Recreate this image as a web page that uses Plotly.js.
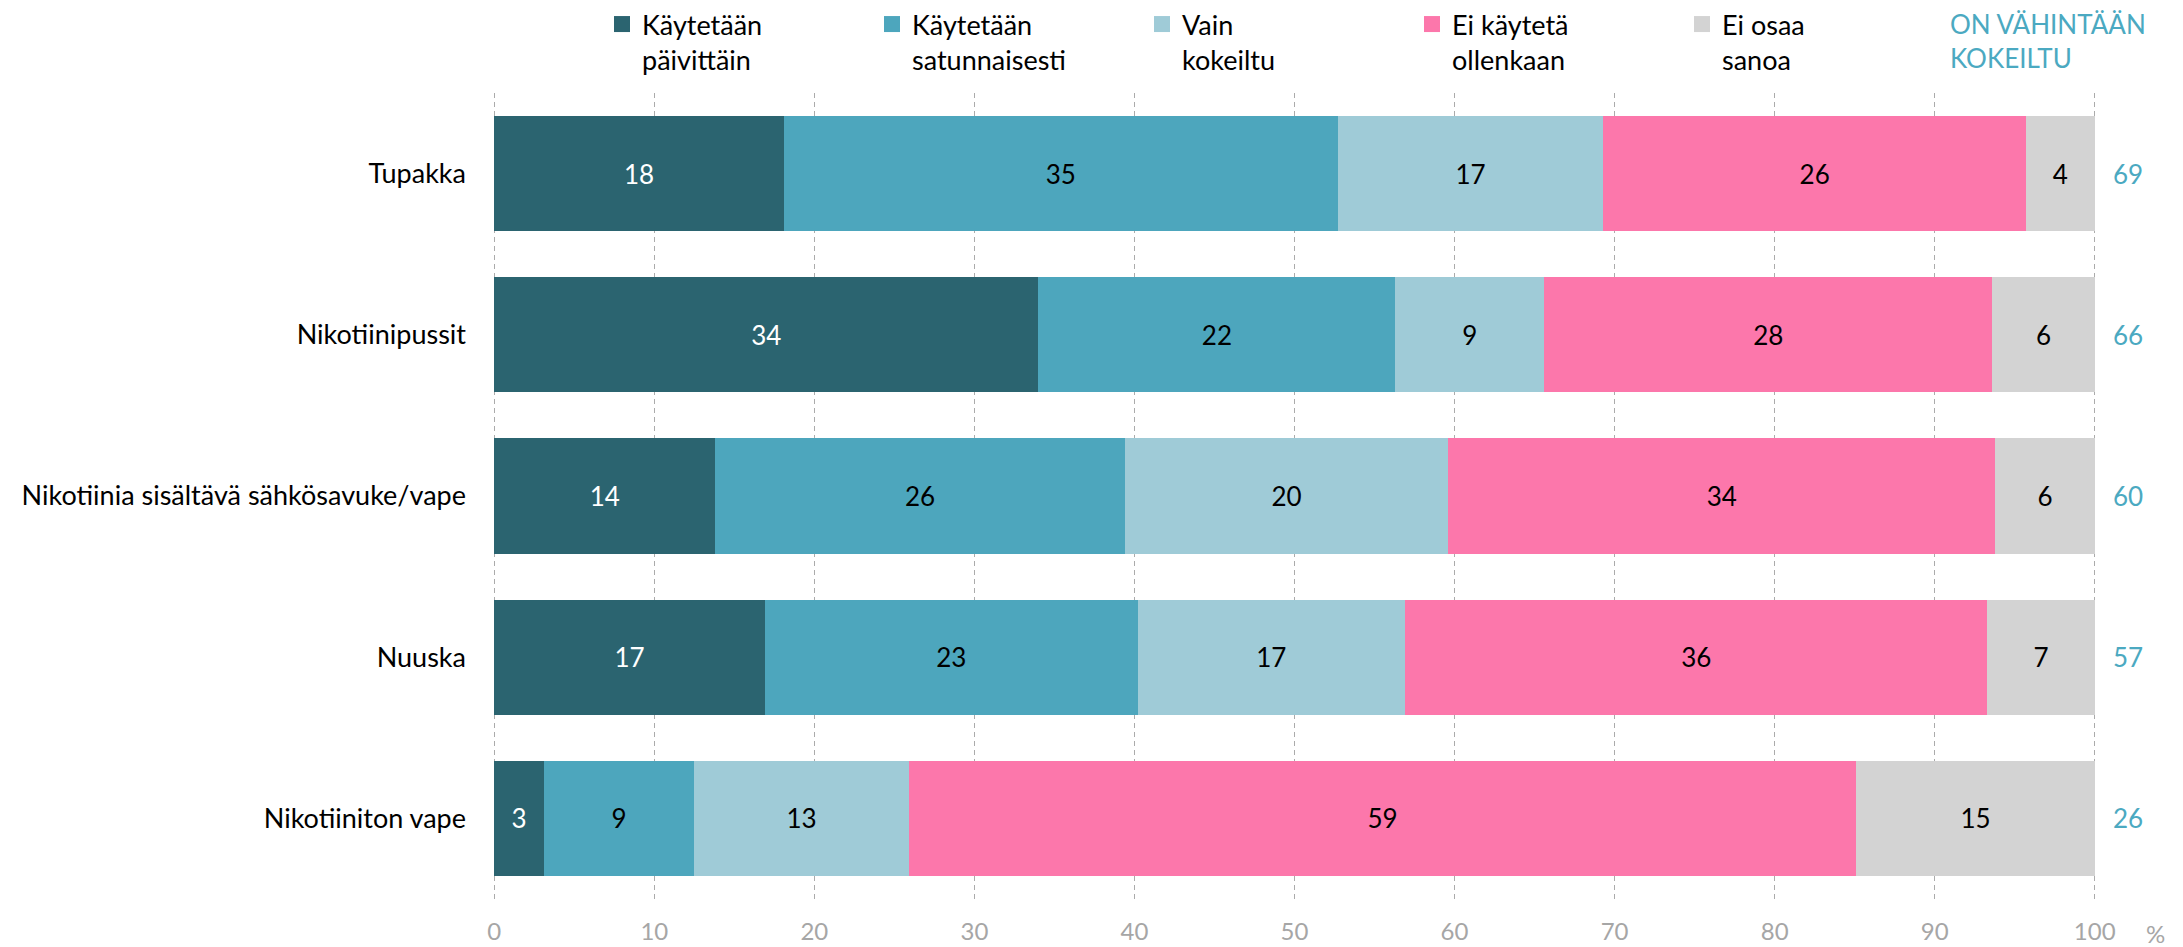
<!DOCTYPE html>
<html>
<head>
<meta charset="utf-8">
<script src="https://cdn.plot.ly/plotly-3.0.1.min.js"></script>
<style>html,body{margin:0;padding:0;background:#fff;}#chart{width:2183px;height:947px;}</style>
</head>
<body>
<div id="chart"></div>
<script>
// Categories (top to bottom)
const categories = ["Tupakka", "Nikotiinipussit", "Nikotiinia sisältävä sähkösavuke/vape", "Nuuska", "Nikotiiniton vape"];
// Series names (legend)
const seriesNames = ["Käytetään<br>päivittäin", "Käytetään<br>satunnaisesti", "Vain<br>kokeiltu", "Ei käytetä<br>ollenkaan", "Ei osaa<br>sanoa"];
// Series values (% per category)
const daily      = [18.1, 34.0, 13.8, 16.9, 3.1];
const occasional = [34.6, 22.3, 25.6, 23.3, 9.4];
const triedOnly  = [16.6,  9.3, 20.2, 16.7, 13.4];
const notUsed    = [26.4, 28.0, 34.2, 36.4, 59.2];
const dontKnow   = [ 4.3,  6.4,  6.2,  6.7, 14.9];
// "On vähintään kokeiltu" totals shown on the right
const atLeastTried = [69, 66, 60, 57, 26];
// x-axis ticks
const xTicks = [0, 10, 20, 30, 40, 50, 60, 70, 80, 90, 100];

const seriesValues = [daily, occasional, triedOnly, notUsed, dontKnow];
const colors = ["#2B6470", "#4DA6BD", "#9FCBD7", "#FC77AB", "#D3D3D3"];
const textColors = ["#FFFFFF", "#000000", "#000000", "#000000", "#000000"];
const FONT = "Lato, 'Open Sans', sans-serif";

const barTraces = seriesValues.map((vals, i) => ({
  type: "bar",
  orientation: "h",
  name: seriesNames[i],
  legendgroup: "g" + i,
  showlegend: false,
  y: categories,
  x: vals,
  marker: {color: colors[i], line: {width: 0}},
  text: vals.map(v => String(Math.round(v))),
  textposition: "inside",
  insidetextanchor: "middle",
  textangle: 0,
  textfont: {family: FONT, size: 26, color: textColors[i]},
  hoverinfo: "x+y+name",
  cliponaxis: false
}));
// legend entries (square swatches)
const legendTraces = seriesNames.map((n, i) => ({
  type: "scatter", mode: "markers", name: n, legendgroup: "g" + i,
  x: [null], y: [null], showlegend: true, hoverinfo: "skip",
  marker: {symbol: "square", size: 16, color: colors[i], line: {width: 0}}
}));

const annotations = categories.map((c, i) => ({
  xref: "paper", yref: "y", x: 1, y: c,
  xanchor: "left", yanchor: "middle", xshift: 15,
  text: String(atLeastTried[i]), showarrow: false,
  font: {family: FONT, size: 26, color: "#4BA9C1"}
}));
annotations.push({
  xref: "paper", yref: "paper", x: 0.9076, y: 1.108,
  xanchor: "left", yanchor: "top", align: "left",
  text: "ON VÄHINTÄÄN<br>KOKEILTU", showarrow: false,
  font: {family: FONT, size: 26, color: "#4BA9C1"}
});
annotations.push({
  xref: "paper", yref: "paper", x: 1, y: 0,
  xanchor: "left", yanchor: "middle", xshift: 48, yshift: -34,
  text: "%", showarrow: false,
  font: {family: FONT, size: 24, color: "#A6A6A6"}
});

const layout = {
  width: 2183, height: 947,
  margin: {l: 493, r: 87, t: 93, b: 48, autoexpand: false},
  paper_bgcolor: "#fff", plot_bgcolor: "#fff",
  barmode: "stack", bargap: 0.286,
  font: {family: FONT, size: 26, color: "#000"},
  showlegend: true,
  legend: {
    orientation: "h", xref: "paper", x: 0.068, xanchor: "left",
    yref: "container", y: 1, yanchor: "top",
    traceorder: "normal", valign: "top", entrywidth: 225, itemwidth: 30,
    font: {family: FONT, size: 27, color: "#000"}, bgcolor: "rgba(0,0,0,0)"
  },
  xaxis: {
    range: [-0.08, 100.08], tickvals: xTicks, ticktext: xTicks.map(String),
    showgrid: true, gridcolor: "#ABABAB", gridwidth: 1.3, griddash: "5px,4px",
    zeroline: false, showline: false, ticks: "", ticklabelstandoff: 16,
    tickfont: {family: FONT, size: 24, color: "#A6A6A6"}, fixedrange: true
  },
  yaxis: {
    type: "category", categoryorder: "array", categoryarray: categories,
    autorange: "reversed", showgrid: false, zeroline: false, showline: false,
    ticks: "", ticklabelstandoff: 26,
    tickfont: {family: FONT, size: 27, color: "#000"}, fixedrange: true
  },
  uniformtext: {mode: "show", minsize: 26},
  annotations: annotations
};

Plotly.newPlot("chart", barTraces.concat(legendTraces), layout, {displayModeBar: false, staticPlot: true});
</script>
</body>
</html>
